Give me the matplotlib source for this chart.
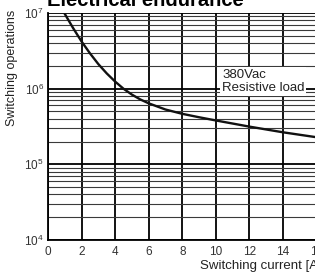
import math
import matplotlib
matplotlib.use("Agg")
import matplotlib.pyplot as plt
from matplotlib.ticker import LogLocator, FixedLocator, FuncFormatter
import matplotlib.font_manager as fm

NARROW = 'Liberation Sans'
for cand in ('Liberation Sans Narrow', 'DejaVu Sans Condensed'):
    if any(f.name == cand for f in fm.fontManager.ttflist):
        NARROW = cand
        break

plt.rcParams['font.family'] = [NARROW, 'DejaVu Sans']
plt.rcParams['mathtext.fontset'] = 'custom'
plt.rcParams['mathtext.rm'] = NARROW
plt.rcParams['mathtext.it'] = NARROW
plt.rcParams['mathtext.bf'] = NARROW

# Data
current_a = [0.97, 1.5, 2.0, 2.5, 3.0, 3.5, 4.0, 4.5, 5.0, 5.5, 6.0, 7.0, 8.0, 9.0,
             10, 12, 14, 16]
operations = [1.0e7, 6.3e6, 4.2e6, 2.93e6, 2.11e6, 1.59e6, 1.24e6, 9.97e5, 8.34e5, 7.2e5,
              6.4e5, 5.3e5, 4.65e5, 4.19e5, 3.8e5, 3.15e5, 2.65e5, 2.28e5]
x_ticks = [0, 2, 4, 6, 8, 10, 12, 14, 16]
y_ticks = [1e4, 1e5, 1e6, 1e7]

W, H = 315, 273
fig = plt.figure(figsize=(W / 100, H / 100), dpi=100)
left, right, top, bottom = 48, 316.6, 13, 240
ax = fig.add_axes([left / W, 1 - bottom / H, (right - left) / W, (bottom - top) / H])

ax.set_yscale('log')
ax.set_xlim(0, 16)
ax.set_ylim(1e4, 1e7)

ax.xaxis.set_major_locator(FixedLocator(x_ticks))
ax.yaxis.set_major_locator(FixedLocator(y_ticks))
ax.yaxis.set_minor_locator(LogLocator(base=10, subs=range(2, 10)))
ax.yaxis.set_minor_formatter(FuncFormatter(lambda v, p: ''))
ax.yaxis.set_major_formatter(FuncFormatter(lambda v, p: r'$10^{%d}$' % round(math.log10(v))))

ax.grid(True, which='major', axis='x', color='black', lw=1.3)
ax.grid(True, which='major', axis='y', color='black', lw=1.3)
ax.grid(True, which='minor', axis='y', color='#3a3a3a', lw=0.8)
ax.set_axisbelow(True)

ax.tick_params(axis='both', which='both', length=0, labelsize=8.5, colors='#333333')
ax.tick_params(axis='x', pad=4)
ax.tick_params(axis='y', pad=3)

for s in ['top', 'right']:
    ax.spines[s].set_visible(False)
for s in ['left', 'bottom']:
    ax.spines[s].set_color('black')
    ax.spines[s].set_linewidth(1.3)

ax.plot(current_a, operations, color='#111111', lw=1.7, zorder=3,
        solid_joinstyle='round')

fig.text(222 / W, 1 - 69 / H, '380Vac\nResistive load', fontsize=9.5, va='top', ha='left',
         color='#222222', linespacing=1.15,
         bbox=dict(boxstyle='square,pad=0.15', fc='white', ec='none'), zorder=5)

fig.text(47 / W, 1 - 6.5 / H, 'Electrical endurance', fontsize=14.5, fontweight='bold',
         family=['Liberation Sans', 'DejaVu Sans'], ha='left', va='baseline')
fig.text(12 / W, 1 - 68 / H, 'Switching operations', rotation=90, fontsize=9,
         ha='center', va='center', color='#222222')
fig.text(200 / W, 1 - 266 / H, 'Switching current [A]', fontsize=9.5,
         ha='left', va='center', color='#222222')

fig.savefig('out.png', dpi=100)
